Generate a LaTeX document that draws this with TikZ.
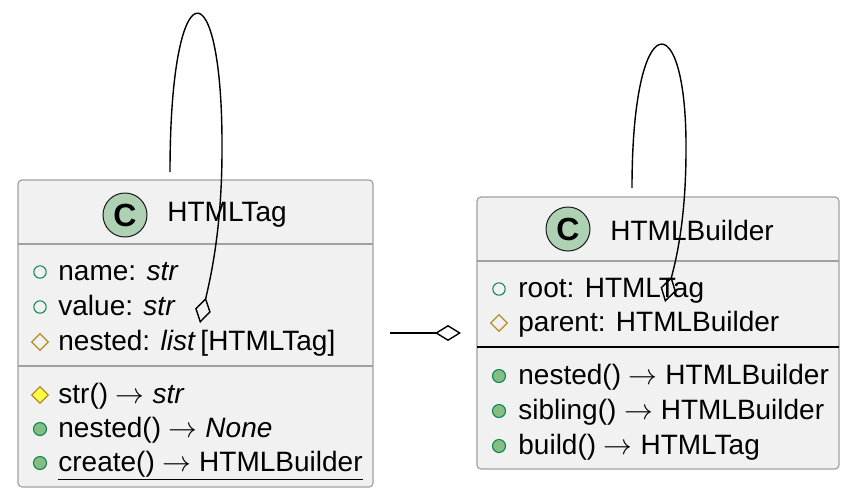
\documentclass[tikz,border=0pt]{standalone}
\usepackage{fontspec}
\setmainfont{Liberation Sans}
\usetikzlibrary{arrows.meta,positioning,calc,fit,shapes.geometric}
\definecolor{boxfill}{HTML}{F1F1F1}
\definecolor{boxline}{HTML}{A0A0A0}
\definecolor{spotfill}{HTML}{ADD1B2}
\definecolor{publine}{HTML}{038048}
\definecolor{pubfill}{HTML}{84BE84}
\definecolor{protline}{HTML}{B38D22}
\definecolor{protfill}{HTML}{FFFF44}

\begin{document}
\begin{tikzpicture}[
		x=0.5pt, y=-0.5pt,
		classbox/.style={draw=boxline, fill=boxfill, rounded corners=2pt, inner sep=0pt, line width=0.6pt},
		sepline/.style={draw=boxline, line width=0.6pt},
		spot/.style={circle, draw=black!90, fill=spotfill, minimum size=22pt, inner sep=0pt, line width=0.5pt, font=\fontsize{16}{16}\selectfont\bfseries},
		title/.style={anchor=west, inner sep=0pt, font=\fontsize{14}{16}\selectfont},
		member/.style={anchor=west, inner sep=0pt, text height=10pt, text depth=3pt, font=\fontsize{14}{16}\selectfont},
		pubfield/.style={circle, draw=publine, inner sep=0pt, minimum size=6.2pt, line width=0.5pt},
		pubmethod/.style={circle, draw=publine, fill=pubfill, inner sep=0pt, minimum size=6.5pt, line width=0.5pt},
		protfield/.style={diamond, draw=protline, inner sep=0pt, minimum width=8.5pt, minimum height=8.5pt, line width=0.6pt},
		protmethod/.style={diamond, draw=protline, fill=protfill, inner sep=0pt, minimum width=8.5pt, minimum height=8.5pt, line width=0.6pt},
		link/.style={draw, line width=0.7pt, -{Diamond[open, length=13pt, width=8pt]}}
		]
		
		\useasboundingbox (0,0) rectangle (852,500);
		
		% --------------------------------------------------
		% HTMLTag class
		% --------------------------------------------------
		\node[classbox, fit={(18,180) (373,487)}] (tag) {};
		
		\node[spot] (tagspot) at (125,215) {C};
		\node[title] (tagname) at (167,215) {HTMLTag};
		\draw[sepline] (18,244) -- (373,244);
		
		\node[pubfield] (tagi1) at (40,272) {};
		\node[member] (tagf1) at (58,273) {name: \textit{str}};
		\node[pubfield] (tagi2) at (40,307) {};
		\node[member] (tagf2) at (58,308) {value: \textit{str}};
		\node[protfield] (tagi3) at (40,342) {};
		\node[member] (tagf3) at (58,343) {nested: \textit{list}\,[HTMLTag]};
		
		\draw[sepline] (18,366) -- (373,366);
		
		\node[protmethod] (tagi4) at (40,395) {};
		\node[member] (tagm1) at (58,396) {str() $\rightarrow$ \textit{str}};
		\node[pubmethod] (tagi5) at (40,429) {};
		\node[member] (tagm2) at (58,430) {nested() $\rightarrow$ \textit{None}};
		\node[pubmethod] (tagi6) at (40,463) {};
		\node[member] (tagm3) at (58,464) {\underline{create() $\rightarrow$ HTMLBuilder}};
		
		% --------------------------------------------------
		% HTMLBuilder class
		% --------------------------------------------------
		\node[classbox, fit={(477,197) (839,469)}] (builder) {};
		
		\node[spot] (builderspot) at (568,229) {C};
		\node[title] (buildername) at (610,230) {HTMLBuilder};
		\draw[sepline] (477,261) -- (839,261);
		
		\node[pubfield] (builderi1) at (499,289) {};
		\node[member] (builderf1) at (518,290) {root: HTMLTag};
		\node[protfield] (builderi2) at (499,323) {};
		\node[member] (builderf2) at (518,324) {parent: HTMLBuilder};
		
		\draw[line width=0.6pt] (477,347) -- (839,347);
		
		\node[pubmethod] (builderi3) at (499,376) {};
		\node[member] (builderm1) at (518,377) {nested() $\rightarrow$ HTMLBuilder};
		\node[pubmethod] (builderi4) at (499,411) {};
		\node[member] (builderm2) at (518,412) {sibling() $\rightarrow$ HTMLBuilder};
		\node[pubmethod] (builderi5) at (499,446) {};
		\node[member] (builderm3) at (518,447) {build() $\rightarrow$ HTMLTag};
		
		% --------------------------------------------------
		% Aggregations
		% --------------------------------------------------
		\coordinate (tagloopout) at (170,172);
		\coordinate (tagloopin) at (200,323);
		\coordinate (builderloopout) at (632,188);
		\coordinate (builderloopin) at (665,302);
		\coordinate (tagside) at (390,333);
		\coordinate (builderside) at (461,333);
		
		\draw[link] (tagloopout) .. controls (170,-36) and (223,-36) .. (222,150)
		.. controls (222,230) and (210,280) .. (tagloopin);
		\draw[link] (builderloopout) .. controls (632,3) and (687,3) .. (686,150)
		.. controls (686,220) and (676,260) .. (builderloopin);
		\draw[link] (tagside) -- (builderside);
		
	\end{tikzpicture}
\end{document}
